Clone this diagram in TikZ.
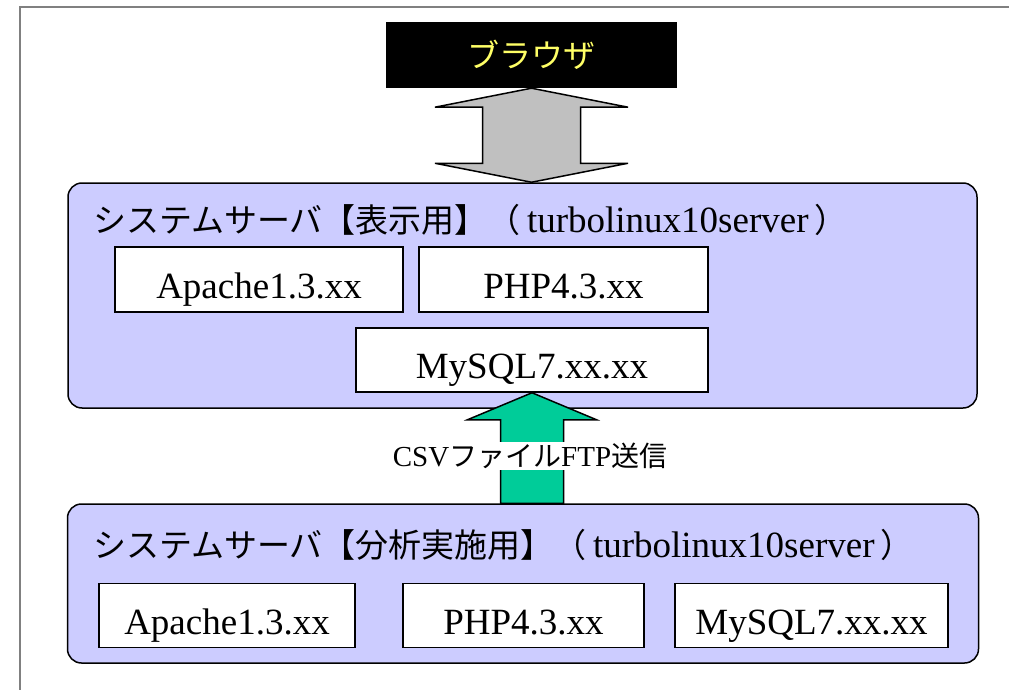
\documentclass[tikz,border=0pt]{standalone}
\usepackage{fontspec}
\setmainfont{Liberation Serif}
\newfontfamily\jp{Noto Sans CJK JP}
\usetikzlibrary{calc}
\definecolor{srvblue}{HTML}{CCCCFF}
\definecolor{arrgray}{HTML}{C0C0C0}
\definecolor{arrgreen}{HTML}{00CC99}
\definecolor{txtyellow}{HTML}{FFFF66}
\definecolor{framegray}{HTML}{808080}
\tikzset{
  server/.style={draw, line width=1.5pt, rounded corners=14pt, fill=srvblue, inner sep=0pt},
  comp/.style={draw, line width=1.5pt, fill=white, inner sep=0pt,
    text height=37pt, text depth=0pt,
    font=\fontsize{37}{40}\selectfont},
  bigarrow/.style={draw, line width=1.5pt, line join=miter},
  title/.style={anchor=base west, inner sep=0pt, font=\fontsize{37}{40}\selectfont},
}
\newcommand{\jpt}[1]{{\jp\fontsize{33}{36}\selectfont #1}}
\begin{document}
\begin{tikzpicture}[x=1pt,y=-1pt]
\useasboundingbox (0,0) rectangle (1009,690);
% outer frame
\draw[framegray, line width=2pt] (19.5,690) -- (19.5,7.5) -- (1009,7.5);

% browser
\node[fill=black, minimum width=291pt, minimum height=66pt, inner sep=0pt,
  text=txtyellow, font=\jp\fontsize{32}{34}\selectfont] (browser) at (531.5,55) {ブラウザ};

% upper server
\node[server, minimum width=909pt, minimum height=225pt] (up) at (522.5,295.5) {};
\node[title] (uptitle) at (93,232) {\jpt{システムサーバ【表示用】（}\,turbolinux10server\,\jpt{）}};
\node[comp, minimum width=288pt, minimum height=65pt] (apU) at (259,279.5) {Apache1.3.xx};
\node[comp, minimum width=289pt, minimum height=65pt] (phpU) at (563.5,279.5) {PHP4.3.xx};
\node[comp, minimum width=352pt, minimum height=64pt] (myU) at (532,360) {MySQL7.xx.xx};

% lower server
\node[server, minimum width=911pt, minimum height=159pt] (low) at (523,583.5) {};
\node[title] (lowtitle) at (93,557) {\jpt{システムサーバ【分析実施用】（}\,turbolinux10server\,\jpt{）}};
\node[comp, minimum width=256pt, minimum height=64pt] (apL) at (227,615.5) {Apache1.3.xx};
\node[comp, minimum width=241pt, minimum height=64pt] (phpL) at (523.5,615.5) {PHP4.3.xx};
\node[comp, minimum width=273pt, minimum height=64pt] (myL) at (811.5,615.5) {MySQL7.xx.xx};

% gray double arrow browser <-> upper server
\coordinate (gt) at (browser.south);
\coordinate (gb) at (browser.south |- up.north);
\draw[bigarrow, fill=arrgray]
  (gt) -- ($(gt)+(96.5,19)$) -- ($(gt)+(49,19)$) -- ($(gb)+(49,-19)$) -- ($(gb)+(96.5,-19)$)
  -- (gb) -- ($(gb)+(-96.5,-19)$) -- ($(gb)+(-49,-19)$) -- ($(gt)+(-49,19)$) -- ($(gt)+(-96.5,19)$) -- cycle;

% green arrow lower server -> MySQL
\coordinate (ct) at (myU.south);
\coordinate (cb) at (myU.south |- low.north);
\draw[bigarrow, fill=arrgreen]
  (ct) -- ($(ct)+(64.5,27)$) -- ($(ct)+(31.5,27)$) -- ($(cb)+(31.5,0)$) -- ($(cb)+(-31.5,0)$)
  -- ($(ct)+(-31.5,27)$) -- ($(ct)+(-64.5,27)$) -- cycle;
\node[fill=white, inner sep=1pt, font=\fontsize{29}{30}\selectfont] (csv) at (530,456)
  {CSV{\jp\fontsize{28}{30}\selectfont ファイル}FTP{\jp\fontsize{28}{30}\selectfont 送信}};
\end{tikzpicture}
\end{document}
